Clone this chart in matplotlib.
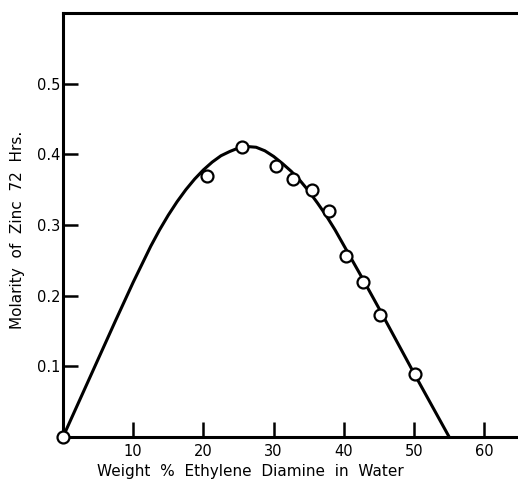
import matplotlib
matplotlib.use("Agg")
import matplotlib.pyplot as plt

# measured points (weight % ethylene diamine, molarity of zinc)
pts_x = [0, 20.5, 25.5, 30.4, 32.8, 35.4, 37.9, 40.3, 42.7, 45.1, 50.1]
pts_y = [0, 0.370, 0.410, 0.384, 0.365, 0.350, 0.320, 0.256, 0.220, 0.173, 0.089]

# smooth curve
curve_x = [0, 2.5, 5, 7.5, 10, 12.5, 13.75, 15, 16.25, 17.5, 18.75, 20,
           21.25, 22.5, 23.75, 25, 26.25, 27.5, 28.75, 30, 31.25, 32.5,
           33.75, 35, 36.25, 37.5, 38.75, 40, 42.5, 45, 47.5, 50, 52.5, 55]
curve_y = [0, 0.055, 0.110, 0.165, 0.219, 0.270, 0.293, 0.314, 0.333, 0.350,
           0.365, 0.378, 0.389, 0.398, 0.404, 0.409, 0.411, 0.410, 0.405,
           0.397, 0.387, 0.376, 0.363, 0.348, 0.331, 0.313, 0.293, 0.271,
           0.227, 0.182, 0.136, 0.090, 0.045, 0]

xticks = [10, 20, 30, 40, 50, 60]
xtick_labels = ["10", "20", "30", "40", "50", "60"]
yticks = [0.1, 0.2, 0.3, 0.4, 0.5]
ytick_labels = ["0.1", "0.2", "0.3", "0.4", "0.5"]

fig = plt.figure(figsize=(5.18, 4.79), dpi=100)
ax = fig.add_axes([0.1216, 0.0877, 0.8784, 0.8852])

ax.plot(curve_x, curve_y, color="black", lw=2.2, clip_on=False,
        solid_joinstyle="round")
ax.plot(pts_x, pts_y, "o", ms=8.6, mfc="white", mec="black", mew=1.6,
        clip_on=False, zorder=5)

ax.set_xlim(0, 64.8)
ax.set_ylim(0, 0.6)
ax.set_xticks(xticks)
ax.set_xticklabels(xtick_labels)
ax.set_yticks(yticks)
ax.set_yticklabels(ytick_labels)

# open frame on the right, heavy lines elsewhere
for s in ["left", "top", "bottom"]:
    ax.spines[s].set_linewidth(2.2)
ax.spines["right"].set_visible(False)

ax.tick_params(direction="in", length=11, width=1.8, labelsize=10.5)
ax.tick_params(axis="x", pad=5)
ax.tick_params(axis="y", pad=2)

ax.set_xlabel("Weight  %  Ethylene  Diamine  in  Water", fontsize=11,
              va="top")
ax.xaxis.set_label_coords(0.411, -0.063)
ax.set_ylabel("Molarity  of  Zinc  72  Hrs.", fontsize=11, va="bottom")
ax.yaxis.set_label_coords(-0.084, 0.488)

fig.savefig("out.png", dpi=100)
